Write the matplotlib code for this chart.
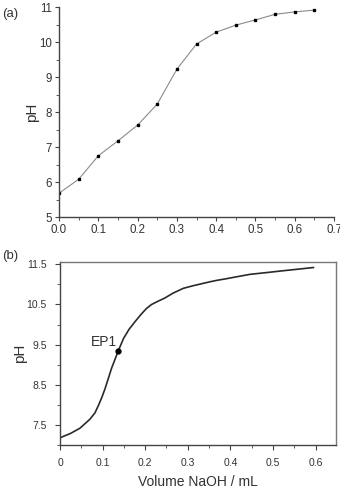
import numpy as np
import matplotlib
matplotlib.use("Agg")
import matplotlib.pyplot as plt
from matplotlib.ticker import MultipleLocator

plt.rcParams['font.family'] = ['Liberation Sans', 'DejaVu Sans']

# (a) measured titration points
vol_a = [0.0, 0.05, 0.10, 0.15, 0.20, 0.25, 0.30, 0.35, 0.40, 0.45, 0.50, 0.55, 0.60, 0.65]
ph_a = [5.68, 6.08, 6.75, 7.18, 7.63, 8.23, 9.23, 9.95, 10.29, 10.49, 10.64, 10.80, 10.87, 10.92]

# (b) titration curve
vol_b = [0.0, 0.025, 0.047, 0.07, 0.082, 0.09, 0.098, 0.106, 0.121, 0.137, 0.149, 0.162, 0.176,
         0.19, 0.203, 0.215, 0.23, 0.246, 0.265, 0.289, 0.31, 0.33, 0.35, 0.368, 0.39, 0.41,
         0.446, 0.49, 0.524, 0.56, 0.595]
ph_b = [7.18, 7.29, 7.42, 7.64, 7.80, 7.98, 8.18, 8.41, 8.91, 9.35, 9.65, 9.88, 10.07,
        10.25, 10.40, 10.50, 10.58, 10.66, 10.78, 10.90, 10.96, 11.01, 11.06, 11.10, 11.14, 11.18,
        11.25, 11.30, 11.34, 11.38, 11.42]
ep1 = (0.137, 9.35)

txt = '#333333'
fig = plt.figure(figsize=(3.4, 4.88), dpi=100)

# ---- panel (a)
ax1 = fig.add_axes([0.1735, 0.5553, 0.809, 0.4297])
ax1.plot(vol_a, ph_a, '-', color='#8a8a8a', lw=0.8)
ax1.plot(vol_a, ph_a, 's', color='black', ms=1.8)
ax1.set_xlim(0, 0.7)
ax1.set_ylim(5, 11)
ax1.xaxis.set_major_locator(MultipleLocator(0.1))
ax1.xaxis.set_minor_locator(MultipleLocator(0.05))
ax1.yaxis.set_major_locator(MultipleLocator(1))
ax1.yaxis.set_minor_locator(MultipleLocator(0.5))
ax1.xaxis.set_major_formatter(matplotlib.ticker.FormatStrFormatter('%.1f'))
for s in ['top', 'right']:
    ax1.spines[s].set_visible(False)
for s in ['left', 'bottom']:
    ax1.spines[s].set_color('#444444')
    ax1.spines[s].set_linewidth(1.0)
ax1.tick_params(which='major', length=3, width=0.8, color='#444444', labelsize=8.3, labelcolor=txt, pad=2)
ax1.tick_params(which='minor', length=2, width=0.6, color='#444444')
ax1.set_ylabel('pH', fontsize=11, color=txt, labelpad=0)
fig.text(0.005, 0.965, '(a)', fontsize=9.5, color=txt)

# ---- panel (b)
ax2 = fig.add_axes([0.1765, 0.0881, 0.8118, 0.3744])
ax2.plot(vol_b, ph_b, '-', color='#2a2a2a', lw=1.2)
ax2.plot(*ep1, 'o', color='black', ms=3.5)
ax2.text(ep1[0] - 0.065, ep1[1] + 0.12, 'EP1', fontsize=10, color=txt)
ax2.set_xlim(0, 0.648)
ax2.set_ylim(7.0, 11.55)
ax2.xaxis.set_minor_locator(MultipleLocator(0.05))
ax2.yaxis.set_minor_locator(MultipleLocator(0.5))
ax2.set_yticks([7.5, 8.5, 9.5, 10.5, 11.5])
ax2.set_xticks([0, 0.1, 0.2, 0.3, 0.4, 0.5, 0.6])
ax2.set_xticklabels(['0', '0.1', '0.2', '0.3', '0.4', '0.5', '0.6'])
for s in ax2.spines.values():
    s.set_color('#777777')
    s.set_linewidth(1.0)
ax2.spines['left'].set_color('#444444')
ax2.spines['bottom'].set_color('#444444')
ax2.tick_params(which='major', length=3.5, width=0.8, color='#444444', labelsize=7.5, labelcolor=txt, pad=6)
ax2.tick_params(which='minor', length=2.5, width=0.6, color='#444444')
ax2.set_ylabel('pH', fontsize=11, color=txt, labelpad=0)
ax2.set_xlabel('Volume NaOH / mL', fontsize=10, color=txt, labelpad=5)
fig.text(0.005, 0.47, '(b)', fontsize=9.5, color=txt)

fig.savefig('out.png', dpi=100)
